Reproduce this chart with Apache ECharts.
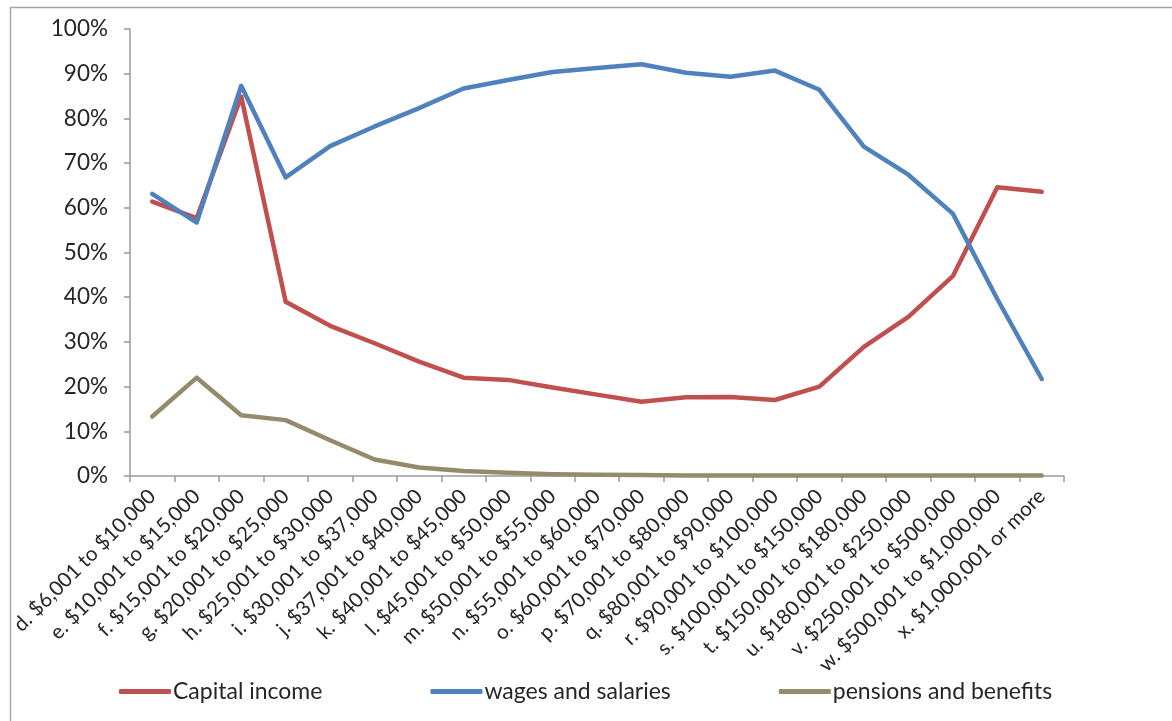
<!DOCTYPE html>
<html>
<head>
<meta charset="utf-8">
<script src="https://cdn.jsdelivr.net/npm/echarts@6/dist/echarts.min.js"></script>
<style>
  html, body { margin: 0; padding: 0; background: #ffffff; }
  #chart { width: 1172px; height: 721px; }
</style>
</head>
<body>
<div id="chart"></div>
<script>
// Income bands
const categories = [
  'd. $6,001 to $10,000', 'e. $10,001 to $15,000', 'f. $15,001 to $20,000',
  'g. $20,001 to $25,000', 'h. $25,001 to $30,000', 'i. $30,001 to $37,000',
  'j. $37,001 to $40,000', 'k. $40,001 to $45,000', 'l. $45,001 to $50,000',
  'm. $50,001 to $55,000', 'n. $55,001 to $60,000', 'o. $60,001 to $70,000',
  'p. $70,001 to $80,000', 'q. $80,001 to $90,000', 'r. $90,001 to $100,000',
  's. $100,001 to $150,000', 't. $150,001 to $180,000', 'u. $180,001 to $250,000',
  'v. $250,001 to $500,000', 'w. $500,001 to $1,000,000', 'x. $1,000,001 or more'
];

// Share of income by source (fractions)
const capitalIncome = [
  0.614, 0.577, 0.849, 0.390, 0.336, 0.297, 0.256, 0.220, 0.215, 0.198, 0.182,
  0.166, 0.176, 0.177, 0.170, 0.200, 0.289, 0.356, 0.447, 0.646, 0.636
];
const wagesAndSalaries = [
  0.631, 0.567, 0.873, 0.668, 0.738, 0.782, 0.823, 0.867, 0.886, 0.904, 0.913,
  0.921, 0.902, 0.893, 0.907, 0.864, 0.737, 0.674, 0.587, 0.396, 0.217
];
const pensionsAndBenefits = [
  0.133, 0.220, 0.136, 0.125, 0.080, 0.037, 0.019, 0.011, 0.007, 0.004, 0.003,
  0.002, 0.001, 0.001, 0.001, 0.001, 0.001, 0.001, 0.001, 0.001, 0.001
];

const seriesNames = ['Capital income', 'wages and salaries', 'pensions and benefits'];
const seriesColors = ['#C0504D', '#4F81BD', '#948A6C'];
const seriesData = [capitalIncome, wagesAndSalaries, pensionsAndBenefits];

const FONT = 'Lato';
const TEXT = '#262626';
const AXIS = '#9a9a9a';

const chart = echarts.init(document.getElementById('chart'), null, { renderer: 'canvas' });

chart.setOption({
  animation: false,
  backgroundColor: '#ffffff',
  textStyle: { fontFamily: FONT },
  graphic: [{
    type: 'rect',
    left: 8, top: 5,
    shape: { width: 1300, height: 900 },
    style: { fill: 'none', stroke: '#a6a6a6', lineWidth: 1.5 },
    silent: true
  }],
  grid: { left: 130, right: 108, top: 29, bottom: 245 },
  legend: {
    bottom: 13,
    left: 114,
    itemGap: 108,
    itemWidth: 52,
    itemHeight: 5,
    icon: 'roundRect',
    textStyle: { fontFamily: FONT, fontSize: 23, color: TEXT, padding: [0, 0, 0, -3] },
    data: seriesNames
  },
  xAxis: {
    type: 'category',
    data: categories,
    boundaryGap: true,
    axisLine: { lineStyle: { color: AXIS, width: 1.5 } },
    axisTick: { show: true, length: 6, interval: 0, lineStyle: { color: AXIS, width: 1.5 } },
    axisLabel: {
      interval: 0, rotate: 45, margin: 17,
      fontFamily: FONT, fontSize: 20.5, color: TEXT
    },
    splitLine: { show: false }
  },
  yAxis: {
    type: 'value',
    min: 0, max: 1, interval: 0.1,
    axisLine: { show: true, lineStyle: { color: AXIS, width: 1.5 } },
    axisTick: { show: true, length: 6, lineStyle: { color: AXIS, width: 1.5 } },
    axisLabel: {
      margin: 22,
      fontFamily: FONT, fontSize: 22.5, color: TEXT,
      formatter: v => Math.round(v * 100) + '%'
    },
    splitLine: { show: false }
  },
  series: seriesNames.map((name, i) => ({
    name,
    type: 'line',
    data: seriesData[i],
    showSymbol: false,
    symbol: 'none',
    color: seriesColors[i],
    lineStyle: { width: 4.5, color: seriesColors[i], cap: 'round', join: 'round' }
  }))
});
</script>
</body>
</html>
